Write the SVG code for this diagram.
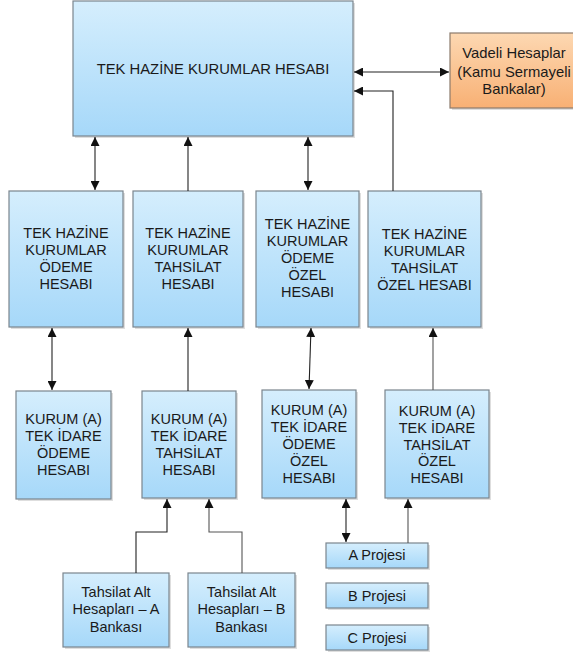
<svg xmlns="http://www.w3.org/2000/svg" width="573" height="657" viewBox="0 0 573 657">
<defs>
<linearGradient id="blue" x1="0" y1="0" x2="0" y2="1">
<stop offset="0" stop-color="#d5eefd"/>
<stop offset="1" stop-color="#a6d8f9"/>
</linearGradient>
<linearGradient id="orange" x1="0" y1="0" x2="0" y2="1">
<stop offset="0" stop-color="#fdd8b2"/>
<stop offset="1" stop-color="#f8b074"/>
</linearGradient>
<marker id="ah" viewBox="0 0 10 10" refX="10" refY="5" markerWidth="9" markerHeight="9" markerUnits="userSpaceOnUse" orient="auto-start-reverse">
<path d="M0,0 L10,5 L0,10 Z" fill="#111"/>
</marker>
<style>
.box{fill:url(#blue);stroke:#7b858e;stroke-width:1.2}
.obox{fill:url(#orange);stroke:#8c7b6c;stroke-width:1.2}
.sh{fill:#c8c8c8;opacity:0.6}
text{font-family:"Liberation Sans",Arial,sans-serif;font-size:14.5px;fill:#1a1a1a;text-anchor:middle}
.c{fill:none;stroke:#222;stroke-width:1.1}
.g{stroke:#555}
</style>
</defs>

<g id="main">
<rect class="sh" x="75" y="3" width="280" height="135"/>
<rect class="box" x="73" y="1" width="280" height="135"/>
<text x="213" y="74" style="font-size:14.8px">TEK HAZİNE KURUMLAR HESABI</text>
</g>

<g id="vadeli">
<rect class="sh" x="452" y="35" width="130" height="75"/>
<rect class="obox" x="450" y="33" width="130" height="75"/>
<text x="514" y="58" style="font-size:14.8px">Vadeli Hesaplar</text>
<text x="514" y="77" style="font-size:14.8px">(Kamu Sermayeli</text>
<text x="514" y="94" style="font-size:14.8px">Bankalar)</text>
</g>

<g id="odeme">
<rect class="sh" x="11" y="193" width="114" height="136"/>
<rect class="box" x="9" y="191" width="114" height="136"/>
<text x="66" y="238">TEK HAZİNE</text>
<text x="66" y="255">KURUMLAR</text>
<text x="66" y="272">ÖDEME</text>
<text x="66" y="289">HESABI</text>
</g>

<g id="tahsilat">
<rect class="sh" x="135" y="193" width="110" height="136"/>
<rect class="box" x="133" y="191" width="110" height="136"/>
<text x="188" y="238">TEK HAZİNE</text>
<text x="188" y="255">KURUMLAR</text>
<text x="188" y="272">TAHSİLAT</text>
<text x="188" y="289">HESABI</text>
</g>

<g id="odemeozel">
<rect class="sh" x="258" y="193" width="103" height="136"/>
<rect class="box" x="256" y="191" width="103" height="136"/>
<text x="307.5" y="229">TEK HAZİNE</text>
<text x="307.5" y="246">KURUMLAR</text>
<text x="307.5" y="263">ÖDEME</text>
<text x="307.5" y="280">ÖZEL</text>
<text x="307.5" y="297">HESABI</text>
</g>

<g id="tahsilatozel">
<rect class="sh" x="370" y="193" width="113" height="136"/>
<rect class="box" x="368" y="191" width="113" height="136"/>
<text x="424.5" y="238.5">TEK HAZİNE</text>
<text x="424.5" y="255.5">KURUMLAR</text>
<text x="424.5" y="272.5">TAHSİLAT</text>
<text x="424.5" y="289.5">ÖZEL HESABI</text>
</g>

<g id="kurumodeme">
<rect class="sh" x="18" y="393" width="95" height="108"/>
<rect class="box" x="16" y="391" width="95" height="108"/>
<text x="63.5" y="424">KURUM (A)</text>
<text x="63.5" y="441">TEK İDARE</text>
<text x="63.5" y="458">ÖDEME</text>
<text x="63.5" y="475">HESABI</text>
</g>

<g id="kurumtahsilat">
<rect class="sh" x="144" y="393" width="94" height="107"/>
<rect class="box" x="142" y="391" width="94" height="107"/>
<text x="189" y="424">KURUM (A)</text>
<text x="189" y="441">TEK İDARE</text>
<text x="189" y="458">TAHSİLAT</text>
<text x="189" y="475">HESABI</text>
</g>

<g id="kurumodemeozel">
<rect class="sh" x="264" y="392" width="94" height="108"/>
<rect class="box" x="262" y="390" width="94" height="108"/>
<text x="309" y="415">KURUM (A)</text>
<text x="309" y="432">TEK İDARE</text>
<text x="309" y="449">ÖDEME</text>
<text x="309" y="466">ÖZEL</text>
<text x="309" y="483">HESABI</text>
</g>

<g id="kurumtahsilatozel">
<rect class="sh" x="387" y="392" width="104" height="108"/>
<rect class="box" x="385" y="390" width="104" height="108"/>
<text x="437" y="416">KURUM (A)</text>
<text x="437" y="433">TEK İDARE</text>
<text x="437" y="450">TAHSİLAT</text>
<text x="437" y="466">ÖZEL</text>
<text x="437" y="483">HESABI</text>
</g>

<g id="altA">
<rect class="sh" x="65" y="575" width="106" height="74"/>
<rect class="box" x="63" y="573" width="106" height="74"/>
<text x="116" y="597">Tahsilat Alt</text>
<text x="116" y="614">Hesapları – A</text>
<text x="116" y="632">Bankası</text>
</g>

<g id="altB">
<rect class="sh" x="190" y="575" width="107" height="74"/>
<rect class="box" x="188" y="573" width="107" height="74"/>
<text x="241.5" y="597">Tahsilat Alt</text>
<text x="241.5" y="614">Hesapları – B</text>
<text x="241.5" y="632">Bankası</text>
</g>

<g id="projeA">
<rect class="sh" x="328" y="545" width="102" height="25"/>
<rect class="box" x="326" y="543" width="102" height="25"/>
<text x="377" y="560">A Projesi</text>
</g>

<g id="projeB">
<rect class="sh" x="328" y="585" width="102" height="25"/>
<rect class="box" x="326" y="583" width="102" height="25"/>
<text x="377" y="601">B Projesi</text>
</g>

<g id="projeC">
<rect class="sh" x="328" y="627" width="102" height="25"/>
<rect class="box" x="326" y="625" width="102" height="25"/>
<text x="377" y="643">C Projesi</text>
</g>

<g id="connectors">
<path class="c" d="M354,72 H449" marker-start="url(#ah)" marker-end="url(#ah)"/>
<path class="c" d="M393,191 V91 H354" marker-end="url(#ah)"/>
<path class="c" d="M95,137 V190" marker-start="url(#ah)" marker-end="url(#ah)"/>
<path class="c" d="M188,191 V137" marker-end="url(#ah)"/>
<path class="c" d="M308,137 V190" marker-start="url(#ah)" marker-end="url(#ah)"/>
<path class="c" d="M52,328 V390" marker-start="url(#ah)" marker-end="url(#ah)"/>
<path class="c" d="M188,391 V328" marker-end="url(#ah)"/>
<path class="c" d="M311,328 L309,389" marker-start="url(#ah)" marker-end="url(#ah)"/>
<path class="c g" d="M433,390 V328" marker-end="url(#ah)"/>
<path class="c" d="M136,573 V532 H167 V499" marker-end="url(#ah)"/>
<path class="c g" d="M242,573 V532 H209 V499" marker-end="url(#ah)"/>
<path class="c" d="M346,499 V542" marker-start="url(#ah)" marker-end="url(#ah)"/>
<path class="c g" d="M408,543 V499" marker-end="url(#ah)"/>
</g>
</svg>
